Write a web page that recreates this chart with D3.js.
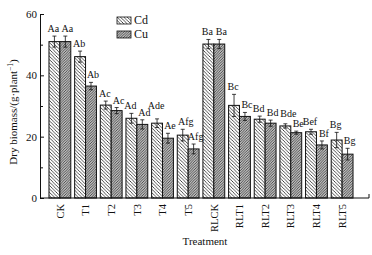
<!DOCTYPE html>
<html>
<head>
<meta charset="utf-8">
<title>Dry biomass</title>
<script src="https://d3js.org/d3.v7.min.js"></script>
<style>
  body { margin: 0; background: #fff; }
  text { font-family: "Liberation Serif", "Times New Roman", serif; fill: #111; }
</style>
</head>
<body>
<div id="chart"></div>
<script>
// data
const treatments = ["CK", "T1", "T2", "T3", "T4", "T5", "RLCK", "RLT1", "RLT2", "RLT3", "RLT4", "RLT5"];
const cdValues = [51.0, 46.1, 30.3, 26.0, 24.4, 20.5, 50.2, 30.2, 25.7, 23.5, 21.6, 18.9];
const cdErrors = [1.8, 1.8, 1.3, 1.6, 1.4, 1.9, 1.5, 3.6, 1.0, 0.7, 0.8, 2.5];
const cuValues = [51.0, 36.5, 28.5, 24.0, 19.5, 16.0, 50.2, 26.6, 24.4, 21.3, 17.3, 14.3];
const cuErrors = [1.8, 1.2, 1.0, 1.5, 1.6, 1.6, 1.5, 1.3, 1.0, 0.5, 1.3, 1.9];
const cdLetters = ["Aa", "Ab", "Ac", "Ad", "Ade", "Afg", "Ba", "Bc", "Bd", "Bde", "Bef", "Bg"];
const cuLetters = ["Aa", "Ab", "Ac", "Ad", "Ae", "Afg", "Ba", "Bc", "Bd", "Be", "Bf", "Bg"];
const yTicks = [0, 20, 40, 60];
const yMinor = [10, 30, 50];

const width = 372, height = 255;

const svg = d3.select("#chart").append("svg")
    .attr("width", width)
    .attr("height", height);

// hatch patterns
const defs = svg.append("defs");
const s = 3.4;
const cdPat = defs.append("pattern")
    .attr("id", "cd").attr("patternUnits", "userSpaceOnUse")
    .attr("width", s).attr("height", s);
cdPat.append("rect").attr("width", s).attr("height", s).attr("fill", "#fff");
cdPat.append("path")
    .attr("d", `M0,0L${s},${s}M-1,${s-1}L1,${s+1}M${s-1},-1L${s+1},1`)
    .attr("stroke", "#222").attr("stroke-width", 0.8);

const c = 2.6;
const cuPat = defs.append("pattern")
    .attr("id", "cu").attr("patternUnits", "userSpaceOnUse")
    .attr("width", c).attr("height", c);
cuPat.append("rect").attr("width", c).attr("height", c).attr("fill", "#bdbdbd");
cuPat.append("path")
    .attr("d", `M0,${c}L${c},0M-1,1L1,-1M${c-1},${c+1}L${c+1},${c-1}`)
    .attr("stroke", "#333").attr("stroke-width", 0.8);

const x = d3.scaleBand()
    .domain(treatments)
    .range([40, 362])
    .paddingInner(0.15)
    .paddingOuter(0.35);

const y = d3.scaleLinear()
    .domain([0, 60])
    .range([198, 14]);

const half = x.bandwidth() / 2;

const rows = treatments.map((t, i) => ([
  {t, k: 0, v: cdValues[i], e: cdErrors[i], l: cdLetters[i], fill: "url(#cd)"},
  {t, k: 1, v: cuValues[i], e: cuErrors[i], l: cuLetters[i], fill: "url(#cu)"}
])).flat();

const bx = d => x(d.t) + d.k * half;

svg.append("g").selectAll("rect")
  .data(rows)
  .join("rect")
    .attr("x", bx)
    .attr("y", d => y(d.v))
    .attr("width", half)
    .attr("height", d => y(0) - y(d.v))
    .attr("fill", d => d.fill)
    .attr("stroke", "#111")
    .attr("stroke-width", 1);

// error bars
const eb = svg.append("g").attr("stroke", "#111").attr("stroke-width", 0.8);
rows.forEach(d => {
  const cx = bx(d) + half / 2;
  eb.append("line").attr("x1", cx).attr("x2", cx).attr("y1", y(d.v - d.e)).attr("y2", y(d.v + d.e));
  eb.append("line").attr("x1", cx - 2).attr("x2", cx + 2).attr("y1", y(d.v + d.e)).attr("y2", y(d.v + d.e));
  eb.append("line").attr("x1", cx - 2).attr("x2", cx + 2).attr("y1", y(d.v - d.e)).attr("y2", y(d.v - d.e));
});

// significance letters (a few Cd labels pushed aside as in the original)
const nudge = {"Ade": [0, -6], "Bde": [4, -3], "Afg": [4, 0]};
const lx = d => (d.k === 0 && nudge[d.l]) ? nudge[d.l][0] : 0;
const ly = d => (d.k === 0 && nudge[d.l]) ? nudge[d.l][1] : 0;
svg.append("g").selectAll("text")
  .data(rows)
  .join("text")
    .attr("x", d => bx(d) + half / 2 + (d.k === 0 ? -1 : 2) + lx(d))
    .attr("y", d => y(d.v + d.e) - 4 + ly(d))
    .attr("text-anchor", "middle")
    .attr("font-size", 10)
    .text(d => d.l);

// y axis
const yAxis = svg.append("g")
    .attr("transform", "translate(40,0)")
    .call(d3.axisLeft(y).tickValues(yTicks).tickSize(-4).tickSizeOuter(0).tickPadding(3));
yAxis.selectAll("text").attr("font-size", 11).attr("fill", "#111").attr("font-family", "Liberation Serif");
yAxis.selectAll("line,path").attr("stroke", "#111");
svg.append("g")
    .attr("transform", "translate(40,0)")
    .call(d3.axisLeft(y).tickValues(yMinor).tickSize(-3).tickFormat(""))
    .call(g => g.select(".domain").remove())
    .selectAll("line").attr("stroke", "#111");

// x axis
const xAxis = svg.append("g")
    .attr("transform", `translate(0,${y(0)})`)
    .call(d3.axisBottom(x).tickSize(0).tickPadding(0));
xAxis.select(".domain").remove();
xAxis.selectAll("text")
    .attr("font-size", 10.5)
    .attr("font-family", "Liberation Serif")
    .attr("fill", "#111")
    .attr("text-anchor", "end")
    .attr("transform", "rotate(-90)")
    .attr("x", -6)
    .attr("y", 0)
    .attr("dy", "0.35em");
svg.append("path")
    .attr("d", `M40,${y(0)}H369V${y(0) - 4}`)
    .attr("fill", "none")
    .attr("stroke", "#111");

// axis titles
svg.append("text")
    .attr("x", 205).attr("y", 245)
    .attr("text-anchor", "middle")
    .attr("font-size", 11)
    .text("Treatment");

const yl = svg.append("text")
    .attr("transform", "translate(17,112) rotate(-90)")
    .attr("text-anchor", "middle")
    .attr("font-size", 11);
yl.append("tspan").text("Dry biomass/(g\u00b7plant");
yl.append("tspan").attr("font-size", 7.5).attr("baseline-shift", "super").text("\u22121");
yl.append("tspan").text(")");

// legend
const legend = svg.append("g").attr("transform", "translate(117,17)");
[{n: "Cd", f: "url(#cd)"}, {n: "Cu", f: "url(#cu)"}].forEach((d, i) => {
  const g = legend.append("g").attr("transform", `translate(0,${i * 14})`);
  g.append("rect").attr("width", 14).attr("height", 7).attr("fill", d.f).attr("stroke", "#111").attr("stroke-width", 0.8);
  g.append("text").attr("x", 17).attr("y", 7).attr("font-size", 12).text(d.n);
});
</script>
</body>
</html>
